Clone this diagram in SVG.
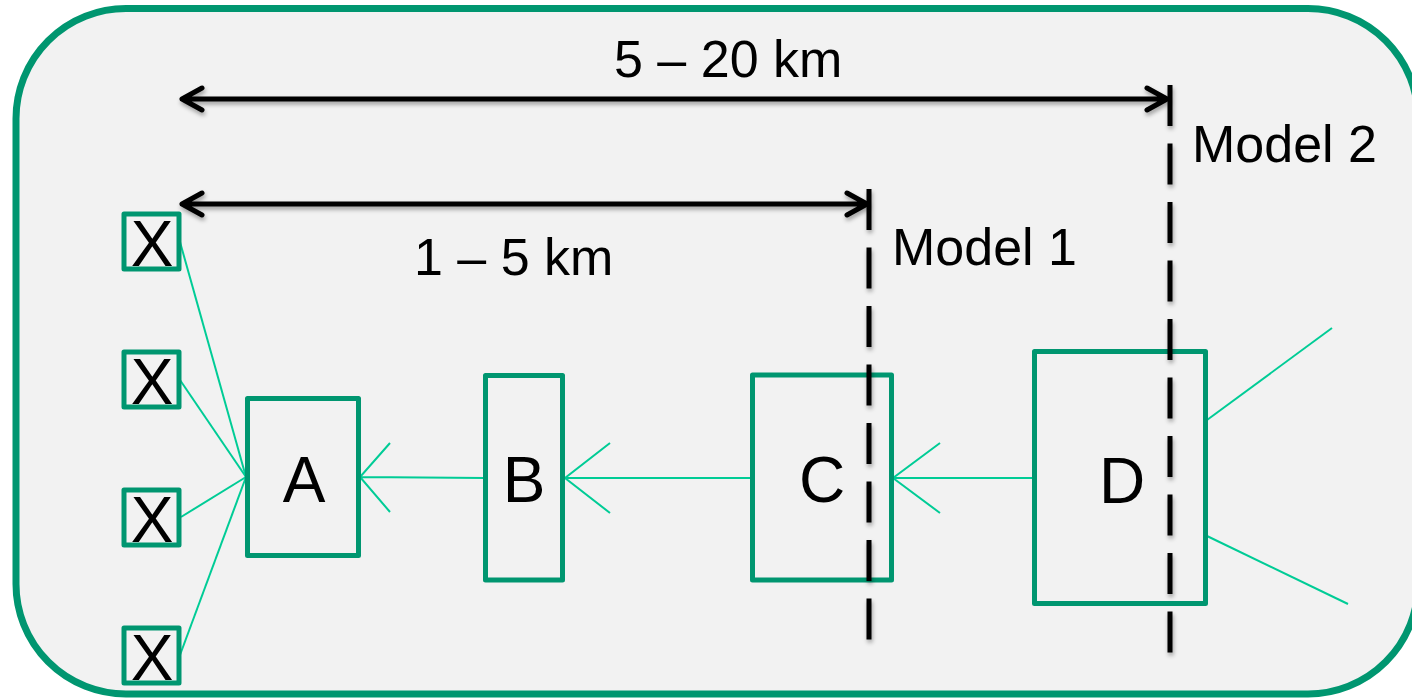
<svg xmlns="http://www.w3.org/2000/svg" width="1412" height="699" viewBox="0 0 1412 699">
<defs>
<filter id="sh" x="-20%" y="-20%" width="140%" height="140%">
<feDropShadow dx="1" dy="3" stdDeviation="2" flood-color="#000" flood-opacity="0.35"/>
</filter>
<style>
.box{fill:none;stroke:#009670;stroke-width:5;stroke-linejoin:round}
.lnk{fill:none;stroke:#00cc96;stroke-width:2}
.dim{fill:none;stroke:#000;stroke-width:5;stroke-linecap:round;stroke-linejoin:round}
.dash{fill:none;stroke:#000;stroke-width:5;stroke-dasharray:41 17.5}
.lbl{font-family:"Liberation Sans",Arial,sans-serif;fill:#000}
.big{font-size:64px;text-anchor:middle}
.mid{font-size:52px}
</style>
</defs>
<rect id="frame" x="16" y="8.5" width="1402" height="685.5" rx="110" ry="110" fill="#f2f2f2" stroke="#009670" stroke-width="7"/>

<g id="connectors">
<line class="lnk" x1="180" y1="242" x2="246" y2="477"/>
<line class="lnk" x1="180" y1="380" x2="246" y2="477"/>
<line class="lnk" x1="181" y1="517" x2="246" y2="477"/>
<line class="lnk" x1="180" y1="655" x2="246" y2="477"/>
<path class="lnk" d="M485 478 L360 477 M390 443 L360 477 L390 512"/>
<path class="lnk" d="M751 478 L565 478 M610 443 L565 478 L610 513"/>
<path class="lnk" d="M1033 478 L893 478 M940 443 L893 478 L940 513"/>
<line class="lnk" x1="1207" y1="420" x2="1332" y2="328"/>
<line class="lnk" x1="1207" y1="536" x2="1348" y2="604"/>
</g>

<g id="nodeX1"><rect class="box" x="124" y="214" width="55" height="55"/><text class="lbl big" x="152" y="266">X</text></g>
<g id="nodeX2"><rect class="box" x="124" y="352" width="55" height="55"/><text class="lbl big" x="152" y="404">X</text></g>
<g id="nodeX3"><rect class="box" x="124" y="490" width="55" height="55"/><text class="lbl big" x="152" y="542">X</text></g>
<g id="nodeX4"><rect class="box" x="124" y="628" width="55" height="55"/><text class="lbl big" x="152" y="680">X</text></g>

<g id="nodeA"><rect class="box" x="247.5" y="398.5" width="111" height="157"/><text class="lbl big" x="304" y="502">A</text></g>
<g id="nodeB"><rect class="box" x="485.5" y="375.5" width="77" height="204.5"/><text class="lbl big" x="524" y="502">B</text></g>
<g id="nodeC"><rect class="box" x="752.5" y="375" width="139" height="205"/><text class="lbl big" x="822" y="502">C</text></g>
<g id="nodeD"><rect class="box" x="1034.5" y="351.5" width="171" height="252"/><text class="lbl big" x="1122" y="503">D</text></g>

<g id="model-lines" filter="url(#sh)">
<line class="dash" x1="869" y1="189" x2="869" y2="643"/>
<line class="dash" x1="1170" y1="85" x2="1170" y2="655"/>
</g>

<g id="dimensions" filter="url(#sh)">
<path class="dim" d="M182 99 L1167 99 M202 88 L182 99 L202 110 M1147 88 L1167 99 L1147 110"/>
<path class="dim" d="M182 204 L867 204 M202 193 L182 204 L202 215 M847 193 L867 204 L847 215"/>
</g>

<g id="labels">
<text class="lbl mid" x="614" y="77">5 – 20 km</text>
<text class="lbl mid" x="414" y="275">1 – 5 km</text>
<text class="lbl mid" x="892" y="265">Model 1</text>
<text class="lbl mid" x="1192" y="162">Model 2</text>
</g>
</svg>
